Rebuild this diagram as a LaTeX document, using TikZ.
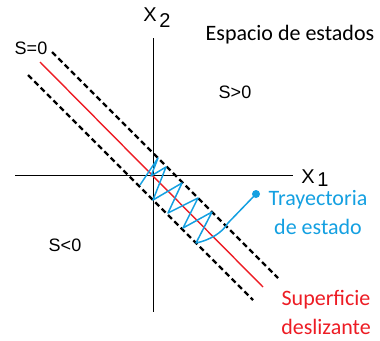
\documentclass[tikz,border=0pt]{standalone}
\usepackage{fontspec}
\setmainfont{Liberation Sans}
\newfontfamily\carlitofont{Carlito}
\definecolor{trajblue}{RGB}{20,160,225}
\definecolor{surfred}{RGB}{237,28,36}
\begin{document}
\begin{tikzpicture}[x=1pt,y=-1pt,
  axis/.style={line width=1pt,black},
  dashline/.style={line width=2.3pt,black,dash pattern=on 5.5pt off 3.5pt},
  redline/.style={line width=1.4pt,surfred},
  traj/.style={line width=1.5pt,trajblue,line join=round},
  blacktxt/.style={font=\fontsize{18}{20}\selectfont,inner sep=0pt},
  axtxt/.style={font=\fontsize{20}{22}\selectfont,inner sep=0pt},
  caltxt/.style={font=\carlitofont\fontsize{22}{29}\selectfont,inner sep=0pt,align=center}]
\useasboundingbox (0,0) rectangle (380,340);
% axes
\draw[axis] (15,175) -- (293,175);
\draw[axis] (153,38) -- (153,312);
\node[axtxt] (x2) at (150,15) {X};
\node[axtxt] (x2s) at (165,21) {2};
\node[axtxt] (x1) at (308,177) {X};
\node[axtxt] (x1s) at (323,180) {1};
% sliding surface and boundary layer
\draw[dashline] (52,52) -- (278,278);
\draw[dashline] (28,75) -- (253,300);
\draw[redline] (40,62) -- (263,287);
% trajectory
\draw[traj] (140,185) -- (158,158) -- (151,176) -- (166,167) -- (153,200)
  -- (182,183) -- (168,213) -- (198,198) -- (183,228) -- (212,212) -- (196,243)
  .. controls (210,240) and (222,233) .. (228,223) -- (256,194);
\node[circle,fill=trajblue,inner sep=0pt,minimum size=8pt] (dot) at (256,194) {};
% labels
\node[blacktxt] (s0) at (31,48) {S=0};
\node[blacktxt] (sp) at (235,92) {S>0};
\node[blacktxt] (sn) at (65,245) {S<0};
\node[caltxt] (esp) at (290,35) {Espacio de estados};
\node[caltxt,text=trajblue] (tray) at (318,213) {Trayectoria\\de estado};
\node[caltxt,text=surfred] (sup) at (326,312) {Superficie\\deslizante};
\end{tikzpicture}
\end{document}
